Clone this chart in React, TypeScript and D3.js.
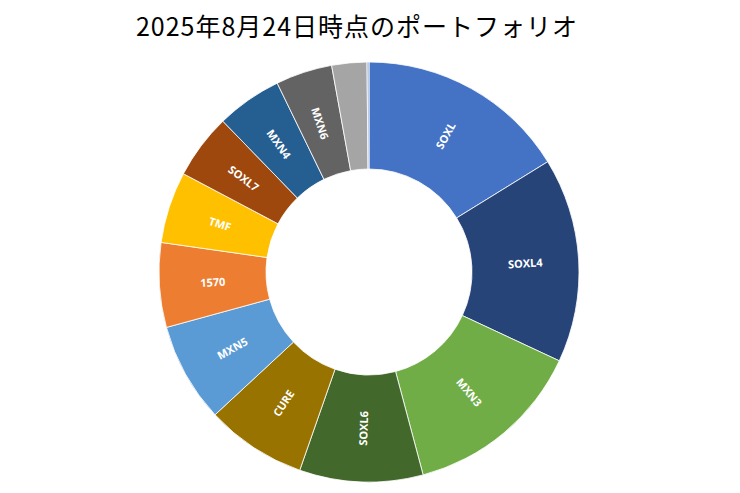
import { useEffect, useRef } from 'react';
import * as d3 from 'd3';

const title = '2025年8月24日時点のポートフォリオ';

// share of portfolio (%), clockwise from 12 o'clock
const names = ['SOXL', 'SOXL4', 'MXN3', 'SOXL6', 'CURE', 'MXN5', '1570', 'TMF', 'SOXL7', 'MXN4', 'MXN6', 'その他', '現金'];
const shares = [16.2, 15.75, 13.9, 9.5, 7.75, 7.65, 6.5, 5.5, 5.0, 5.05, 4.35, 2.7, 0.15];
const colors = [
  '#4472C4', '#264478', '#70AD47', '#43682B', '#997300', '#5B9BD5', '#ED7D31',
  '#FFC000', '#9E480E', '#255E91', '#636363', '#A5A5A5', '#8FAADC',
];

interface Slice {
  name: string;
  value: number;
  color: string;
}

const slices: Slice[] = names.map((name, i) => ({ name, value: shares[i], color: colors[i] }));

export default function App() {
  const ref = useRef<SVGSVGElement>(null);

  useEffect(() => {
    const svgElement = ref.current;
    if (!svgElement) {
      return;
    }

    const svg = d3.select(svgElement);
    svg.selectAll('*').remove();

    const width = 740;
    const height = 493;
    const cx = 369;
    const cy = 272;
    const outer = 210;
    const inner = 103;

    svg.attr('viewBox', `0 0 ${width} ${height}`);

    svg
      .append('text')
      .attr('x', 357)
      .attr('y', 36)
      .attr('text-anchor', 'middle')
      .attr('font-family', '"Noto Sans CJK JP", "Noto Sans", sans-serif')
      .attr('font-size', 25)
      .attr('font-weight', 400)
      .attr('letter-spacing', 1)
      .attr('fill', '#000')
      .text(title);

    const pie = d3
      .pie<Slice>()
      .sort(null)
      .value((d) => d.value);

    const arc = d3.arc<d3.PieArcDatum<Slice>>().innerRadius(inner).outerRadius(outer);

    const g = svg.append('g').attr('transform', `translate(${cx},${cy})`);
    const arcs = pie(slices);

    g.selectAll('path')
      .data(arcs)
      .join('path')
      .attr('d', arc)
      .attr('fill', (d) => d.data.color)
      .attr('stroke', '#fff')
      .attr('stroke-width', 0.8);

    const labelRadius = (inner + outer) / 2;
    g.selectAll('text')
      .data(arcs.filter((d) => d.data.value >= 3))
      .join('text')
      .attr('transform', (d) => {
        const mid = (d.startAngle + d.endAngle) / 2;
        const x = Math.sin(mid) * labelRadius;
        const y = -Math.cos(mid) * labelRadius;
        let rot = (mid * 180) / Math.PI - 90;
        if (rot > 90) {
          rot -= 180;
        }
        return `translate(${x},${y}) rotate(${rot})`;
      })
      .attr('text-anchor', 'middle')
      .attr('dominant-baseline', 'central')
      .attr('font-family', '"Open Sans", "Noto Sans", sans-serif')
      .attr('font-size', 11)
      .attr('font-weight', 700)
      .attr('fill', '#fff')
      .text((d) => d.data.name);
  }, []);

  return (
    <svg
      ref={ref}
      width={740}
      height={493}
      style={{ position: 'absolute', left: 0, top: 0, background: '#fff' }}
    />
  );
}
